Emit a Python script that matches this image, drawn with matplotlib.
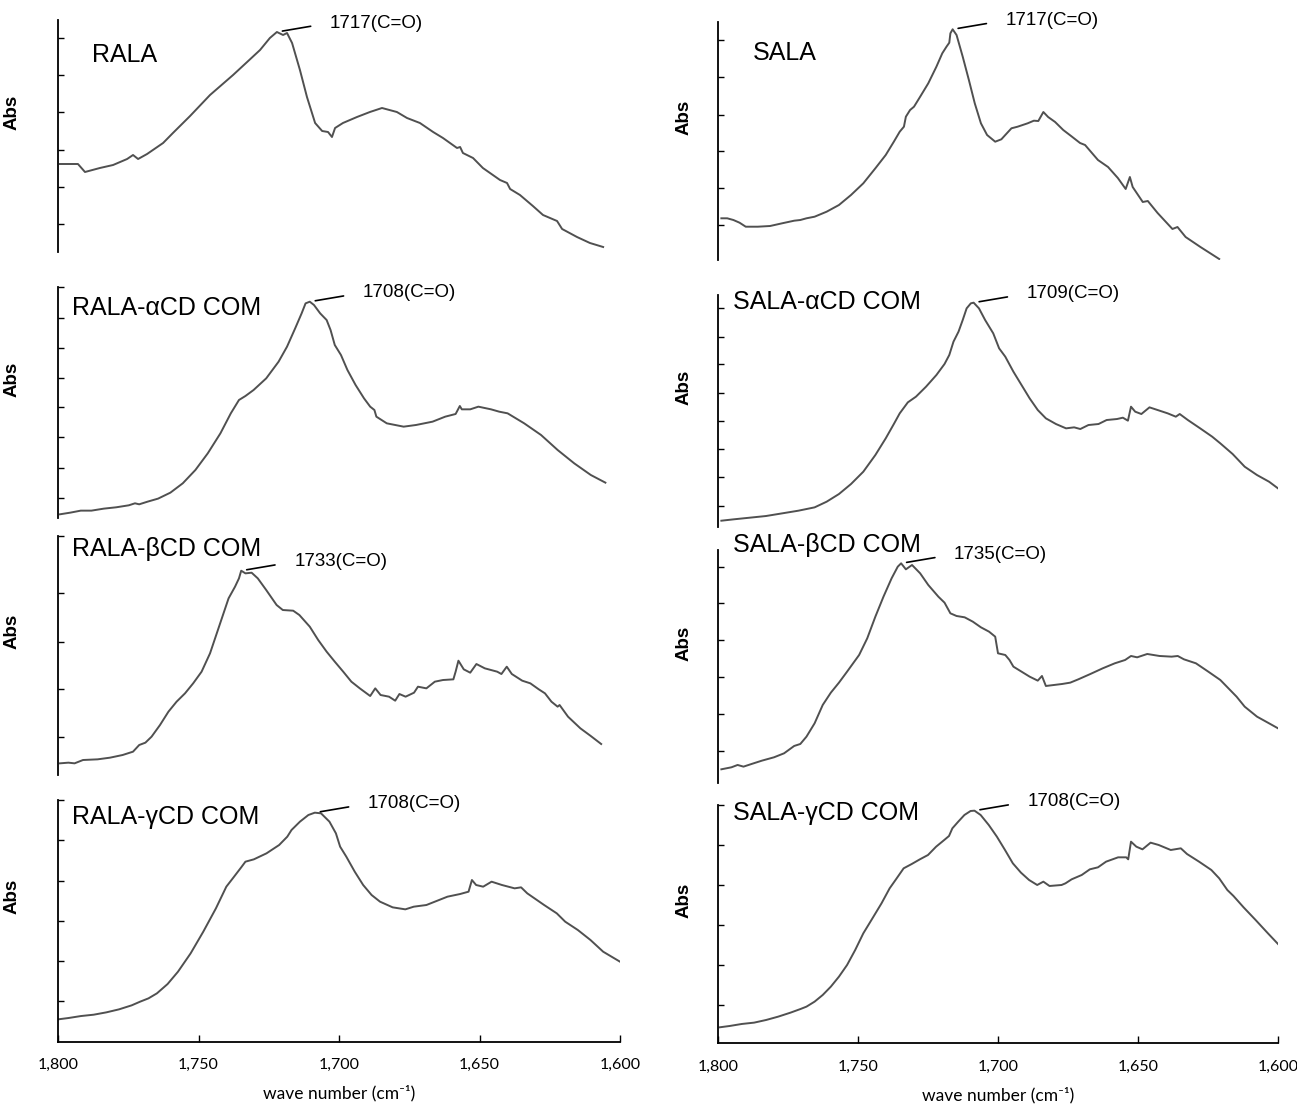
import numpy as np
import matplotlib
matplotlib.use("Agg")
import matplotlib.pyplot as plt  # noqa: E402
from matplotlib.ticker import StrMethodFormatter  # noqa: E402

plt.rcParams["font.family"] = ["Liberation Sans", "DejaVu Sans"]

W, H = 1297, 1108

# ---- spectra: wave number (cm-1) and absorbance (arbitrary, per panel) ------
rala_wn = [1799.3, 1795.7, 1792.9, 1790.4, 1785.1, 1780.4, 1775.4, 1773.3, 1771.5, 1768.3,
           1762.6, 1759.1, 1753.0, 1745.9, 1737.7, 1732.7, 1728.1, 1724.6, 1722.1, 1719.9,
           1718.5, 1716.7, 1713.9, 1711.4, 1708.5, 1706.0, 1703.9, 1702.5, 1701.4, 1698.6,
           1693.6, 1689.0, 1684.7, 1679.4, 1675.8, 1671.2, 1666.5, 1663.0, 1658.0, 1656.9,
           1655.9, 1652.3, 1648.8, 1642.7, 1640.2, 1639.1, 1635.6, 1631.0, 1627.4, 1622.4,
           1620.6, 1615.3, 1610.7, 1606.0]
rala_abs = [88, 88, 88, 80, 84, 87, 93, 97, 93, 98,
            109, 119, 136, 157, 177, 190, 202, 214, 220, 217,
            219, 209, 182, 155, 129, 121, 120, 115, 124, 129,
            135, 140, 144, 140, 134, 129, 120, 114, 104, 105,
            99, 94, 84, 72, 69, 63, 57, 46, 37, 31,
            23, 15, 9, 5]

rala_a_wn = [1799.3, 1795.6, 1791.9, 1788.1, 1783.7, 1779.3, 1774.8, 1772.6, 1771.1, 1768.1,
             1764.4, 1760.0, 1755.6, 1751.1, 1746.7, 1742.2, 1738.5, 1735.6, 1733.3, 1730.4,
             1725.9, 1721.5, 1718.5, 1715.6, 1713.3, 1711.9, 1710.4, 1708.9, 1706.7, 1704.4,
             1703.0, 1701.5, 1699.3, 1697.0, 1694.1, 1691.1, 1688.9, 1687.4, 1686.7, 1683.0,
             1677.0, 1672.6, 1666.7, 1662.2, 1658.5, 1657.0, 1656.3, 1653.3, 1650.4, 1645.9,
             1643.0, 1640.0, 1634.1, 1628.1, 1622.2, 1616.3, 1610.4, 1605.2]
rala_a_abs = [12, 17, 23, 23, 29, 33, 39, 45, 42, 50,
              59, 77, 105, 145, 195, 255, 315, 355, 367, 385,
              420, 470, 515, 570, 615, 645, 650, 640, 615, 595,
              565, 520, 490, 445, 400, 360, 335, 325, 305, 285,
              275, 280, 290, 305, 313, 337, 327, 327, 335, 327,
              320, 315, 285, 250, 205, 165, 130, 107]

rala_b_wn = [1799.3, 1796.3, 1794.1, 1791.1, 1785.9, 1781.5, 1777.0, 1773.3, 1771.1, 1768.9,
             1766.7, 1763.7, 1760.7, 1757.8, 1754.8, 1751.9, 1748.9, 1745.9, 1743.7, 1741.5,
             1739.3, 1737.0, 1735.6, 1734.8, 1733.3, 1731.1, 1728.9, 1725.9, 1722.2, 1720.0,
             1716.3, 1714.1, 1710.4, 1707.4, 1704.4, 1701.5, 1698.5, 1695.6, 1692.6, 1688.9,
             1687.1, 1685.2, 1682.2, 1680.0, 1678.5, 1676.3, 1673.3, 1671.9, 1668.9, 1665.9,
             1663.0, 1659.3, 1658.5, 1657.5, 1655.6, 1653.3, 1651.1, 1648.1, 1643.7, 1642.2,
             1640.3, 1638.5, 1634.8, 1631.9, 1628.9, 1626.7, 1624.4, 1622.2, 1621.5, 1618.5,
             1614.1, 1610.4, 1606.7]
rala_b_abs = [35, 37, 35, 45, 47, 52, 60, 70, 90, 97,
              115, 150, 190, 220, 245, 275, 310, 365, 420, 475,
              530, 565, 590, 613, 605, 607, 590, 555, 510, 495,
              493, 480, 445, 405, 370, 340, 310, 280, 260, 237,
              260, 240, 235, 223, 243, 235, 247, 265, 260, 280,
              285, 287, 310, 343, 317, 307, 333, 320, 310, 303,
              325, 303, 283, 275, 257, 245, 220, 205, 210, 175,
              140, 117, 93]

rala_g_wn = [1800.0, 1796.3, 1791.8, 1787.3, 1782.8, 1778.3, 1773.8, 1770.8, 1767.8, 1764.8,
             1761.0, 1757.3, 1752.8, 1748.3, 1743.8, 1740.1, 1737.8, 1734.8, 1733.3, 1730.3,
             1725.8, 1721.3, 1718.4, 1716.9, 1713.9, 1710.9, 1708.6, 1706.4, 1703.4, 1701.1,
             1699.6, 1697.4, 1694.4, 1691.4, 1688.4, 1685.4, 1680.9, 1676.4, 1673.4, 1668.9,
             1665.9, 1661.4, 1656.9, 1653.9, 1652.7, 1651.2, 1648.7, 1645.7, 1642.0, 1637.5,
             1635.2, 1633.0, 1627.0, 1622.5, 1619.5, 1615.0, 1610.5, 1606.0, 1600.0]
rala_g_abs = [67, 71, 77, 81, 88, 97, 109, 120, 130, 145,
              173, 210, 265, 330, 400, 465, 490, 523, 540, 547,
              565, 590, 615, 635, 660, 680, 687, 685, 660, 625,
              585, 555, 510, 470, 440, 420, 403, 397, 405, 410,
              420, 435, 443, 450, 485, 470, 465, 480, 470, 460,
              463, 445, 410, 385, 360, 335, 305, 270, 240]

sala_wn = [1798.8, 1796.7, 1794.5, 1792.3, 1790.1, 1785.8, 1781.4, 1777.1, 1772.8, 1770.6,
           1768.4, 1765.5, 1761.2, 1756.8, 1752.5, 1748.1, 1743.8, 1740.1, 1737.2, 1735.1,
           1733.6, 1732.9, 1731.4, 1730.0, 1727.8, 1724.9, 1722.0, 1719.9, 1718.4, 1717.4,
           1717.0, 1716.2, 1714.8, 1712.6, 1710.4, 1708.3, 1706.1, 1703.9, 1701.0, 1698.8,
           1697.4, 1695.2, 1693.0, 1689.4, 1687.2, 1685.6, 1683.8, 1682.1, 1679.6, 1676.7,
           1673.9, 1670.7, 1668.9, 1664.3, 1660.7, 1657.2, 1654.4, 1652.9, 1651.9, 1648.3,
           1646.5, 1643.0, 1637.7, 1635.9, 1633.0, 1627.7, 1621.0]
sala_abs = [39.7, 39.7, 38, 35.3, 31.3, 31.3, 32, 34.7, 37.3, 38,
            39.7, 41.3, 46.3, 53, 63, 74.7, 89.7, 103, 116.3, 126.3,
            131.3, 141.3, 148, 151.3, 161.3, 174.7, 191.3, 204.7, 211.3, 215.3,
            224.7, 228.7, 223, 201.3, 178, 154.7, 134.7, 123, 116.3, 118.7,
            123, 129.7, 131.3, 134.7, 137.3, 137, 146, 141, 136, 128,
            122, 115, 113, 98, 91, 80, 69, 81, 71, 56,
            57, 45, 29, 31, 21, 11, -1]

sala_a_wn = [1798.8, 1794.5, 1788.7, 1782.9, 1777.1, 1771.3, 1765.5, 1761.2, 1756.8, 1752.5,
             1748.1, 1743.8, 1740.1, 1737.2, 1735.1, 1732.2, 1729.3, 1725.7, 1722.0, 1719.1,
             1717.4, 1715.9, 1714.1, 1712.6, 1711.2, 1709.7, 1708.7, 1706.8, 1704.6, 1701.7,
             1699.6, 1697.4, 1694.5, 1691.6, 1688.7, 1685.8, 1682.9, 1679.3, 1675.7, 1672.8,
             1670.6, 1667.7, 1664.1, 1661.2, 1657.5, 1655.4, 1653.6, 1652.5, 1651.0, 1648.8,
             1645.9, 1643.0, 1639.4, 1636.5, 1635.1, 1632.2, 1627.8, 1623.5, 1620.6, 1616.2,
             1611.9, 1607.5, 1603.2, 1600.0]
sala_a_abs = [18, 22, 27, 32, 40, 48, 58, 75, 98, 128,
              165, 215, 265, 308, 340, 373, 390, 420, 455, 488,
              515, 555, 585, 620, 655, 670, 672, 655, 620, 580,
              535, 510, 465, 425, 385, 350, 325, 308, 295, 298,
              293, 305, 308, 320, 323, 327, 318, 360, 345, 338,
              358, 350, 340, 330, 338, 320, 295, 270, 250, 218,
              180, 155, 135, 115]

sala_b_wn = [1798.8, 1795.2, 1793.0, 1790.9, 1788.0, 1784.3, 1780.0, 1776.4, 1772.8, 1770.6,
             1768.4, 1765.5, 1762.6, 1759.7, 1756.8, 1753.9, 1749.6, 1746.7, 1743.8, 1740.9,
             1738.0, 1735.8, 1734.6, 1732.9, 1730.7, 1727.8, 1724.9, 1721.3, 1719.1, 1717.0,
             1714.8, 1711.9, 1709.0, 1706.1, 1703.2, 1701.0, 1700.0, 1697.4, 1695.9, 1694.5,
             1691.6, 1688.7, 1685.8, 1684.3, 1682.9, 1680.0, 1677.1, 1674.2, 1671.3, 1667.0,
             1662.6, 1658.3, 1654.6, 1652.5, 1650.3, 1646.7, 1642.3, 1638.0, 1635.8, 1633.6,
             1629.3, 1624.9, 1620.6, 1617.7, 1614.8, 1611.9, 1607.5, 1603.2, 1600.0]
sala_b_abs = [42, 48, 55, 50, 58, 68, 78, 90, 112, 118,
              140, 180, 235, 272, 302, 335, 385, 435, 500, 560,
              615, 650, 660, 642, 655, 630, 595, 560, 542, 510,
              502, 498, 485, 468, 455, 440, 390, 385, 370, 350,
              335, 320, 308, 322, 292, 295, 298, 302, 312, 328,
              345, 360, 370, 382, 378, 388, 382, 380, 382, 372,
              360, 335, 310, 285, 260, 230, 200, 180, 165]

sala_g_wn = [1799.4, 1795.8, 1791.5, 1787.1, 1782.8, 1778.5, 1774.1, 1770.5, 1768.4, 1765.5,
             1762.6, 1759.7, 1756.8, 1753.9, 1751.0, 1748.1, 1745.2, 1741.6, 1738.7, 1736.6,
             1733.7, 1730.8, 1727.9, 1725.0, 1722.1, 1719.2, 1717.5, 1716.3, 1714.2, 1712.0,
             1709.8, 1708.4, 1706.2, 1703.3, 1700.4, 1697.5, 1694.7, 1691.8, 1688.9, 1686.0,
             1683.8, 1681.6, 1677.3, 1675.9, 1673.7, 1670.1, 1667.2, 1664.3, 1661.4, 1657.1,
             1654.2, 1653.5, 1652.5, 1650.6, 1648.4, 1645.5, 1642.6, 1638.3, 1634.7, 1632.5,
             1628.2, 1623.8, 1621.0, 1618.1, 1615.9, 1612.3, 1608.0, 1603.6, 1600.0]
sala_g_abs = [48, 52, 58, 62, 70, 80, 92, 103, 110, 125,
              145, 170, 200, 235, 280, 330, 370, 420, 465, 490,
              525, 538, 552, 565, 590, 610, 622, 645, 665, 685,
              697, 698, 685, 655, 620, 580, 540, 512, 490, 475,
              485, 472, 475, 480, 492, 505, 522, 528, 545, 558,
              558, 552, 605, 590, 582, 602, 595, 580, 585, 568,
              545, 520, 495, 460, 442, 408, 370, 330, 298]

titles = ["RALA", "RALA-αCD COM", "RALA-βCD COM", "RALA-γCD COM",
          "SALA", "SALA-αCD COM", "SALA-βCD COM", "SALA-γCD COM"]
peak_labels = ["1717(C=O)", "1708(C=O)", "1733(C=O)", "1708(C=O)",
               "1717(C=O)", "1709(C=O)", "1735(C=O)", "1708(C=O)"]
x_ticks = [1800, 1750, 1700, 1650, 1600]

spectra = [(rala_wn, rala_abs), (rala_a_wn, rala_a_abs), (rala_b_wn, rala_b_abs),
           (rala_g_wn, rala_g_abs), (sala_wn, sala_abs), (sala_a_wn, sala_a_abs),
           (sala_b_wn, sala_b_abs), (sala_g_wn, sala_g_abs)]

# ---- layout (pixels of the 1297x1108 canvas) ---------------------------------
LEFT, RIGHT = (58, 620), (718, 1278)
# x-span, top, bottom, ylim, y ticks, title pos (axes frac)
frames = [
    (LEFT, 20, 252, (0, 232), [28, 65, 102, 140, 177, 214.5], (0.06, 0.85)),
    (LEFT, 286.7, 518.3, (0, 695), [62, 152, 243, 333, 420, 510, 600, 695], (0.025, 0.91)),
    (LEFT, 535.7, 775, (0, 718), [113, 257, 400, 547, 718], (0.025, 0.945)),
    (LEFT, 800, 1041.7, (0, 725), [122, 242, 362, 483, 605, 725], (0.025, 0.93)),
    (RIGHT, 22, 260, (-2, 236), [33, 70.3, 107.3, 143, 180.7, 218], (0.062, 0.87)),
    (RIGHT, 295, 526.7, (0, 695), [63, 149, 233, 318, 402, 487, 570, 655], (0.027, 0.97)),
    (RIGHT, 550, 783.3, (0, 700), [97, 208, 320, 430, 540, 650], (0.027, 1.02)),
    (RIGHT, 805, 1043.3, (0, 715), [115, 235, 355, 475, 595, 715], (0.027, 0.966)),
]

fig = plt.figure(figsize=(W / 100, H / 100), dpi=100)

for i, ((wn, ab), (span, top, bot, ylim, yt, tpos)) in enumerate(zip(spectra, frames)):
    l, r = span
    ax = fig.add_axes([l / W, 1 - bot / H, (r - l) / W, (bot - top) / H])
    ax.plot(wn, ab, color="#505050", lw=1.4)
    ax.set_xlim(1800, 1600)
    ax.set_ylim(*ylim)
    ax.patch.set_visible(False)

    for s in ("top", "right"):
        ax.spines[s].set_visible(False)
    ax.spines["left"].set_linewidth(1.3)
    ax.set_yticks(yt)
    ax.tick_params(axis="y", direction="in", length=4, width=1.0, labelleft=False)

    if i % 4 == 3:
        ax.spines["bottom"].set_linewidth(1.3)
        ax.set_xticks(x_ticks)
        ax.xaxis.set_major_formatter(StrMethodFormatter("{x:,.0f}"))
        ax.tick_params(axis="x", direction="in", length=5, width=1.0, pad=12,
                       labelsize=11.5)
        for t in ax.get_xticklabels():
            t.set_family(["Lato", "DejaVu Sans"])
        ax.set_xlabel("wave number (cm⁻¹)", fontsize=12.5, labelpad=9,
                      family=["Lato", "DejaVu Sans"])
    else:
        ax.spines["bottom"].set_visible(False)
        ax.set_xticks([])

    ax.set_ylabel("Abs", fontsize=13.5, fontweight="bold")
    ax.yaxis.set_label_coords(-0.066 if span == LEFT else -0.046, 0.6)

    ax.text(tpos[0], tpos[1], titles[i], transform=ax.transAxes, fontsize=18,
            ha="left", va="center")

    k = int(np.argmax(ab))
    ax.annotate(peak_labels[i], xy=(wn[k], ab[k]), xytext=(53, 9),
                textcoords="offset pixels", ha="left", va="center", fontsize=13.5,
                arrowprops=dict(arrowstyle="-", color="black", lw=1.2,
                                relpos=(0, 0.5), shrinkA=12, shrinkB=4))

fig.savefig("out.png", dpi=100)
